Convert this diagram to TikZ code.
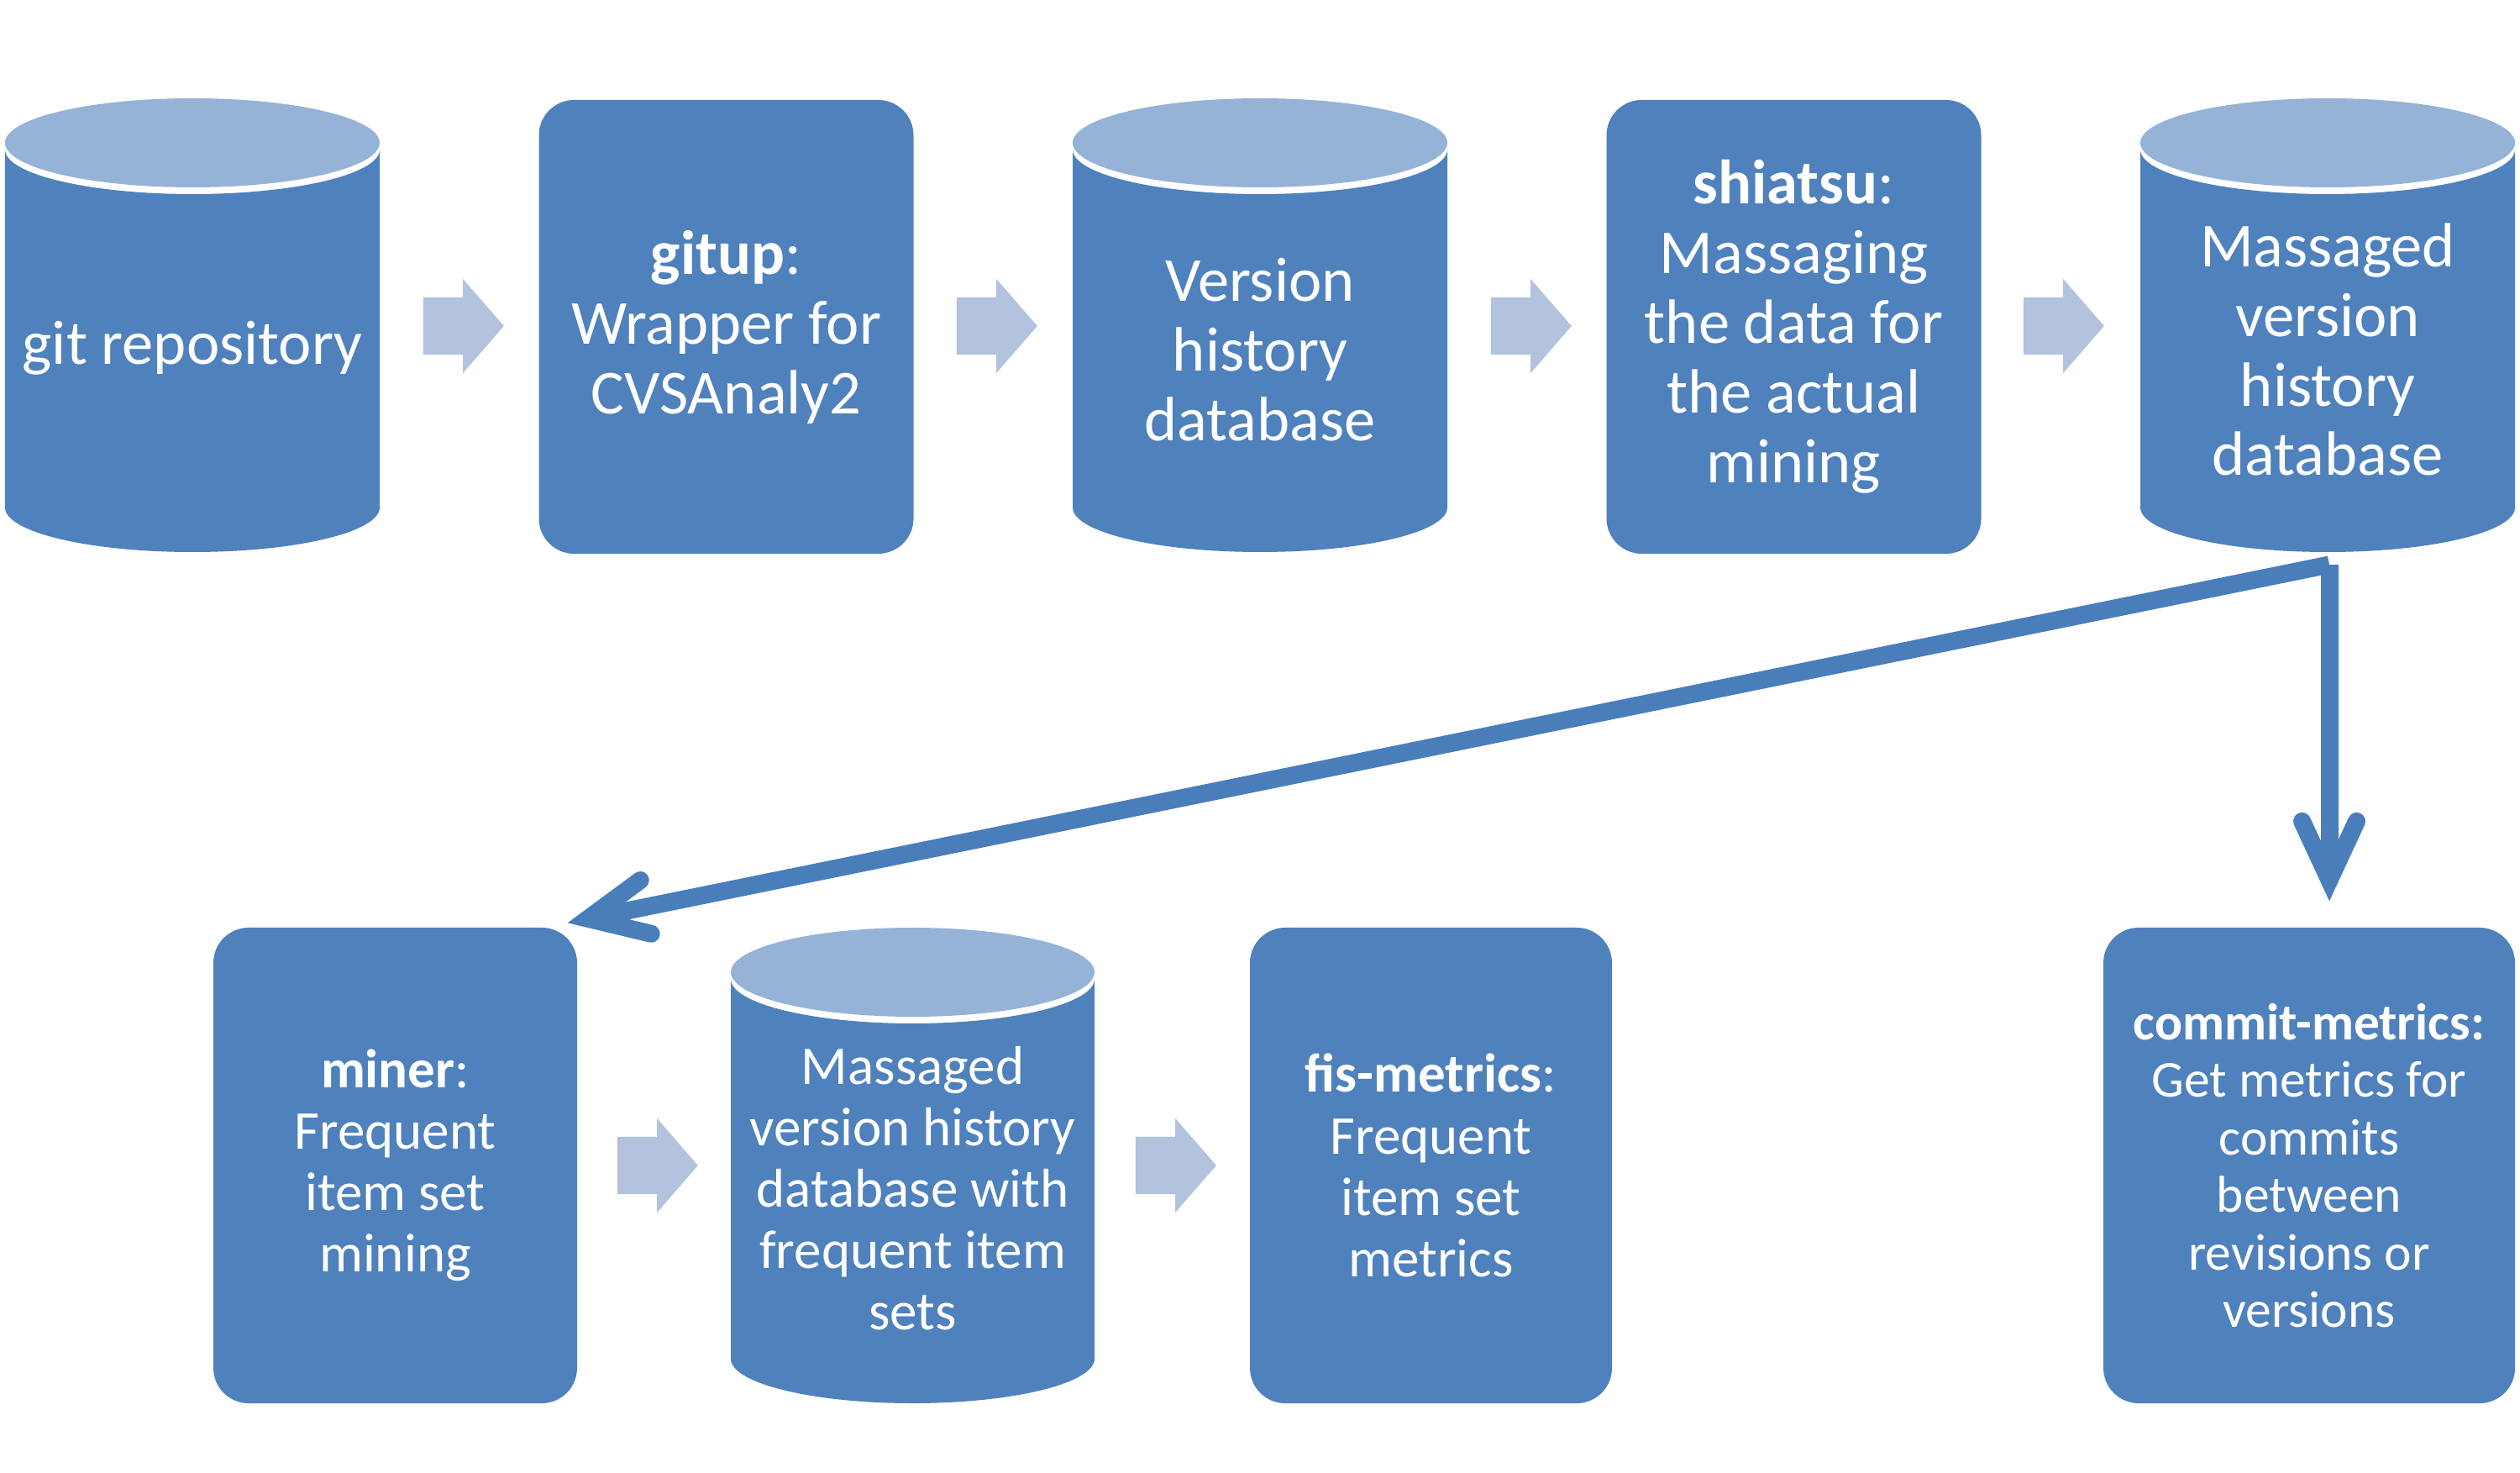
\documentclass[tikz,border=0pt]{standalone}
\usepackage{fontspec}
\setmainfont{Carlito}
\usetikzlibrary{shapes.arrows,arrows.meta}

\definecolor{boxblue}{RGB}{79,129,189}
\definecolor{dbtop}{RGB}{149,179,215}
\definecolor{flowarrow}{RGB}{179,194,221}
\definecolor{linkblue}{RGB}{74,126,187}

% database drum: centre x, centre y, half width, half height
\newcommand{\dbcyl}[4]{%
  \fill[boxblue] (#1-#3,#2+#4-0.61) -- (#1-#3,#2-#4+0.53)
    arc[start angle=180,end angle=360,x radius=#3,y radius=0.53]
    -- (#1+#3,#2+#4-0.61)
    arc[start angle=0,end angle=-180,x radius=#3,y radius=0.53] -- cycle;
  \fill[dbtop] (#1,#2+#4-0.53) ellipse[x radius=#3,y radius=0.53];
}

\begin{document}
\begin{tikzpicture}[>=latex,
  procbox/.style={fill=boxblue, rounded corners=0.42cm, text=white, align=center, inner sep=0pt},
  dbase/.style={text=white, align=center, inner sep=0pt},
  toprow/.style={font=\fontsize{21.2}{23.6}\selectfont},
  lowrow/.style={font=\fontsize{18.5}{20.8}\selectfont},
  flow/.style={single arrow, fill=flowarrow, minimum width=1.11cm, minimum height=0.96cm,
    single arrow head extend=0.22cm, single arrow tip angle=98, inner xsep=0pt, inner ysep=0.335cm},
  link/.style={draw=linkblue, line width=0.21cm, -{Straight Barb[length=0.7cm,width=0.65cm,line cap=round]}}]
\useasboundingbox (0,0) rectangle (30,17.52);

\dbcyl{2.29}{13.65}{2.23}{2.70}
\dbcyl{15.0}{13.65}{2.23}{2.70}
\dbcyl{27.71}{13.65}{2.23}{2.70}
\dbcyl{10.865}{3.65}{2.165}{2.83}

\node[dbase,toprow,minimum width=4.46cm,minimum height=4.86cm] (repo) at (2.29,13.38) {git repository};
\node[procbox,toprow,minimum width=4.46cm,minimum height=5.40cm] (gitup) at (8.645,13.63) {\textbf{gitup}:\\Wrapper for\\CVSAnaly2};
\node[dbase,toprow,minimum width=4.46cm,minimum height=4.86cm] (vhdb) at (15.0,13.36) {Version\\history\\database};
\node[procbox,toprow,minimum width=4.46cm,minimum height=5.40cm] (shiatsu) at (21.355,13.63) {\textbf{shiatsu}:\\Massaging\\the data for\\the actual\\mining};
\node[dbase,toprow,minimum width=4.46cm,minimum height=4.86cm] (mvhdb) at (27.71,13.36) {Massaged\\version\\history\\database};

\node[procbox,lowrow,minimum width=4.33cm,minimum height=5.66cm] (miner) at (4.705,3.65) {\textbf{miner}:\\Frequent\\item set\\mining};
\node[dbase,lowrow,minimum width=4.33cm,minimum height=5.12cm] (fisdb) at (10.865,3.38) {Massaged\\version history\\database with\\frequent item\\sets};
\node[procbox,lowrow,minimum width=4.31cm,minimum height=5.66cm] (fis) at (17.035,3.65) {\textbf{fis-metrics}:\\Frequent\\item set\\metrics};
\node[procbox,font=\fontsize{17.5}{19.5}\selectfont,minimum width=4.90cm,minimum height=5.66cm] (commit) at (27.49,3.65) {\textbf{commit-metrics:}\\Get metrics for\\commits\\between\\revisions or\\versions};

\node[flow] (a1) at (5.37,13.64) {};
\node[flow] (a2) at (11.72,13.64) {};
\node[flow] (a3) at (18.08,13.64) {};
\node[flow] (a4) at (24.42,13.64) {};
\node[flow] (a5) at (7.68,3.65) {};
\node[flow] (a6) at (13.85,3.65) {};

\coordinate (split) at (27.73,10.80);
\draw[link] (split) -- ([xshift=-0.12cm,yshift=0.05cm]miner.north east);
\draw[link,shorten >=0.31cm] (split) -- (split |- commit.north);
\end{tikzpicture}
\end{document}
